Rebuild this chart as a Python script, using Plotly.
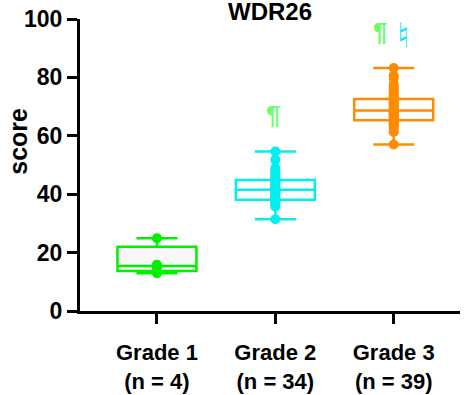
import plotly.graph_objects as go

# Groups and their tick labels
categories = ["Grade 1<br>(n = 4)", "Grade 2<br>(n = 34)", "Grade 3<br>(n = 39)"]
colors = ["#00ee00", "#00f0f0", "#ff8c00"]
fills = ["#f8f8f8", "#ffffff", "#ffffff"]

# Individual scores per group
grade1 = [12.9, 14.9, 15.8, 24.9]
grade2 = [31.4, 35.8, 36.3, 36.9, 37.4, 37.8, 38.0, 38.2, 38.6, 39.0, 39.4, 39.9,
          40.3, 40.7, 41.0, 41.3, 41.5, 41.6, 41.9, 42.3, 42.8, 43.2, 43.6, 44.0,
          44.5, 44.9, 45.3, 45.9, 46.6, 47.3, 48.2, 49.0, 51.8, 54.6]
grade3 = [57.0, 61.3, 62.0, 62.8, 63.4, 63.9, 64.4, 64.9, 65.3, 65.7, 66.2, 66.6,
          67.0, 67.3, 67.6, 67.9, 68.1, 68.3, 68.5, 68.7, 69.1, 69.6, 70.1, 70.6,
          71.0, 71.5, 72.0, 72.6, 73.1, 73.7, 74.3, 74.9, 75.6, 76.3, 77.0, 77.6,
          79.6, 80.6, 83.2]
groups = [grade1, grade2, grade3]

# Box summary statistics (min, Q1, median, Q3, max)
lower = [12.9, 31.4, 57.0]
q1 = [13.7, 38.1, 65.3]
median = [15.4, 41.5, 68.7]
q3 = [22.0, 44.9, 72.6]
upper = [24.9, 54.6, 83.2]

# Significance marks: (text, x position, y value, colour, size)
mark_text = ["¶", "¶", "♮"]
mark_x = [0.98, 1.88, 2.08]
mark_y = [67.0, 95.5, 94.5]
mark_colors = ["#66ff66", "#66ff66", "#00e8ff"]
mark_sizes = [26, 26, 34]

FONT = "Liberation Sans, Arial, sans-serif"

fig = go.Figure()

for i, cat in enumerate(categories):
    fig.add_trace(go.Box(
        x=[cat], q1=[q1[i]], median=[median[i]], q3=[q3[i]],
        lowerfence=[lower[i]], upperfence=[upper[i]],
        width=0.667, whiskerwidth=0.52,
        line=dict(color=colors[i], width=2.5),
        fillcolor=fills[i], boxpoints=False, showlegend=False,
        hoverinfo="skip",
    ))

for i, cat in enumerate(categories):
    fig.add_trace(go.Scatter(
        x=[cat] * len(groups[i]), y=groups[i], mode="markers",
        marker=dict(color=colors[i], size=10, line=dict(width=0)),
        showlegend=False,
    ))

for t, xv, yv, c, s in zip(mark_text, mark_x, mark_y, mark_colors, mark_sizes):
    fig.add_annotation(
        x=xv, y=yv, xref="x", yref="y", text=t, showarrow=False,
        font=dict(family="Liberation Sans, DejaVu Sans, sans-serif", size=s,
                  color=c, weight="bold"),
    )

fig.add_annotation(
    x=0.5, y=1, xref="paper", yref="paper", yanchor="bottom", yshift=-8,
    text="WDR26", showarrow=False,
    font=dict(family=FONT, size=24, color="black", weight="bold"),
)
fig.add_annotation(
    x=-0.205, y=0.58, xref="paper", yref="paper", textangle=-90,
    text="score", showarrow=False,
    font=dict(family=FONT, size=25, color="black", weight="bold"),
)

fig.update_layout(
    width=466, height=395,
    margin=dict(l=80, r=6, t=19, b=84),
    plot_bgcolor="white", paper_bgcolor="white",
    boxmode="overlay",
    font=dict(family=FONT, color="black"),
)
fig.update_xaxes(
    type="category", categoryorder="array", categoryarray=categories,
    range=[-0.65, 2.56], showgrid=False, zeroline=False, automargin=False,
    showline=True, linecolor="black", linewidth=3,
    ticks="outside", ticklen=10, tickwidth=3, tickcolor="black",
    tickfont=dict(family=FONT, size=22, color="black", weight="bold"),
    ticklabelstandoff=10,
)
fig.update_yaxes(
    range=[0, 100], tickvals=[0, 20, 40, 60, 80, 100],
    showgrid=False, zeroline=False, automargin=False,
    showline=True, linecolor="black", linewidth=3,
    ticks="outside", ticklen=10, tickwidth=3, tickcolor="black",
    tickfont=dict(family=FONT, size=23, color="black", weight="bold"),
    ticklabelstandoff=0,
)

fig.write_html("out.html")
